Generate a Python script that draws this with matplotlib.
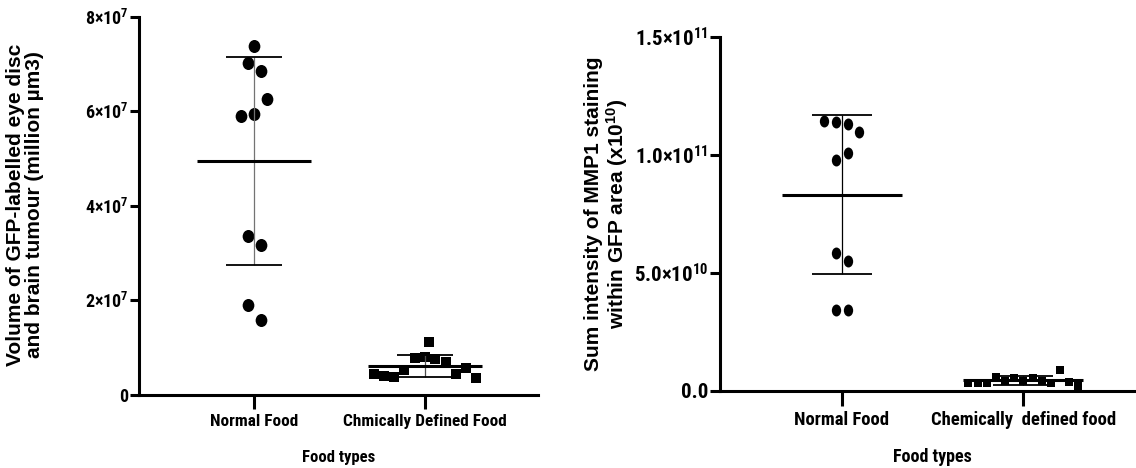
import numpy as np
from matplotlib import pyplot as plt
from matplotlib.font_manager import FontProperties
from matplotlib.path import Path
from matplotlib.transforms import Affine2D


# Tumour volume per animal (x 1e7 µm3)
normal_vol = [7.39, 7.02, 6.86, 6.27, 5.91, 5.94, 3.36, 3.18, 1.91, 1.59]
cdf_vol = [0.44, 0.40, 0.39, 0.52, 0.79, 0.80, 1.12, 0.76, 0.69, 0.44, 0.58, 0.37]

# MMP1 summed intensity per animal (x 1e10)
normal_mmp1 = [11.43, 11.39, 11.29, 10.96, 9.77, 10.05, 5.85, 5.47, 3.43, 3.41]
cdf_mmp1 = [0.30, 0.30, 0.32, 0.58, 0.42, 0.52, 0.40, 0.55, 0.42, 0.30, 0.88, 0.36, 0.20]

vol_ticks = [0, 2, 4, 6, 8]
vol_ticklabels = ["0", r"$\mathdefault{2×10^{7}}$", r"$\mathdefault{4×10^{7}}$",
                  r"$\mathdefault{6×10^{7}}$", r"$\mathdefault{8×10^{7}}$"]
mmp1_ticks = [0, 5, 10, 15]
mmp1_ticklabels = ["0.0", r"$\mathdefault{5.0×10^{10}}$", r"$\mathdefault{1.0×10^{11}}$",
                   r"$\mathdefault{1.5×10^{11}}$"]

# horizontal spread of the scatter columns (in marker slots)
normal_vol_slots = [0, -1, 1, 2, -2, 0, -1, 1, -1, 1]
cdf_vol_slots = [-5, -4, -3, -2, -1, 0, 0.4, 1, 2, 3, 4, 5]
normal_mmp1_slots = [-1.5, -0.5, 0.5, 1.5, -0.5, 0.5, -0.5, 0.5, -0.5, 0.5]
cdf_mmp1_slots = [-6, -5, -4, -3, -2, -1, 0, 1, 2, 3, 4, 5, 6]

W, H = 1136, 468

WIDE_FAMILIES = ["Liberation Sans", "Arimo", "DejaVu Sans"]
NARROW_FAMILIES = ["Liberation Sans Narrow", "Roboto Condensed", "IBM Plex Sans Condensed",
                   "Fira Sans Condensed", "Asap Condensed", "DejaVu Sans"]

plt.rcParams["font.family"] = WIDE_FAMILIES
plt.rcParams["font.weight"] = "bold"


def narrow(size):
    return FontProperties(family=NARROW_FAMILIES, weight="bold", size=size)


def wide(size):
    return FontProperties(family=WIDE_FAMILIES, weight="bold", size=size)


def ellipse(sx):
    circ = Path.unit_circle()
    return circ.transformed(Affine2D().scale(sx, 1.0))


def px_box(left, right, top, bottom):
    return [left / W, 1 - bottom / H, (right - left) / W, (bottom - top) / H]


def draw_group(ax, x0, values, slots, step, marker, size, mean_hw, cap_hw, vline_color):
    values = np.asarray(values)
    xs = x0 + np.asarray(slots) * step
    ax.scatter(xs, values, s=size, marker=marker, color="black", linewidths=0,
               zorder=3, clip_on=False)
    m = values.mean()
    sd = values.std(ddof=1)
    ax.vlines(x0, m - sd, m + sd, color=vline_color, lw=0.9, zorder=4)
    ax.hlines([m - sd, m + sd], x0 - cap_hw, x0 + cap_hw, color="black", lw=1.3, zorder=4)
    ax.hlines(m, x0 - mean_hw, x0 + mean_hw, color="black", lw=2.2, zorder=4)


def style_axes(ax, xlim, ylim, yticks, yticklabels, xticklabels, ysize, xsize, ytick_len, xtick_len):
    ax.set_xlim(*xlim)
    ax.set_ylim(*ylim)
    for side in ["top", "right"]:
        ax.spines[side].set_visible(False)
    for side in ["left", "bottom"]:
        ax.spines[side].set_linewidth(2.2)
    ax.set_yticks(yticks, yticklabels)
    ax.set_xticks([1, 2], xticklabels)
    for lbl in ax.get_yticklabels():
        lbl.set_fontproperties(narrow(ysize))
    for lbl in ax.get_xticklabels():
        lbl.set_fontproperties(narrow(xsize))
    ax.tick_params(axis="y", width=2.2, length=ytick_len, pad=1.5)
    ax.tick_params(axis="x", width=2.2, length=xtick_len, pad=4)


def main():
    fig = plt.figure(figsize=(W / 100, H / 100), dpi=100)

    # left: tumour volume
    ax1 = fig.add_axes(px_box(139.3, 537.5, 16.7, 395))
    draw_group(ax1, 1, normal_vol, normal_vol_slots, 0.038, ellipse(0.9), 88, 0.333, 0.164, "0.45")
    draw_group(ax1, 2, cdf_vol, cdf_vol_slots, 0.06, "s", 52, 0.333, 0.164, "0.3")
    style_axes(ax1, (0.329, 2.658), (0, 8), vol_ticks, vol_ticklabels,
               ["Normal Food", "Chmically Defined Food"], 13, 12.4, 6.5, 10)
    fig.text(25 / W, 1 - 205 / H,
             "Volume of GFP-labelled eye disc\nand brain tumour (million µm3)",
             rotation=90, ha="center", va="center", fontproperties=wide(15),
             linespacing=1.0)
    fig.text(339 / W, 1 - 461.7 / H, "Food types", ha="center", va="baseline",
             fontproperties=narrow(12))

    # right: MMP1 staining
    ax2 = fig.add_axes(px_box(720, 1136, 36.7, 390.5))
    draw_group(ax2, 1, normal_mmp1, normal_mmp1_slots, 0.064, ellipse(0.78), 74, 0.33, 0.165, "black")
    draw_group(ax2, 2, cdf_mmp1, cdf_mmp1_slots, 0.0505, "s", 37, 0.33, 0.165, "black")
    style_axes(ax2, (0.330, 2.620), (0, 15), mmp1_ticks, mmp1_ticklabels,
               ["Normal Food", "Chemically  defined food"], 15, 13.4, 7, 11)
    fig.text(607 / W, 1 - 213.6 / H,
             "Sum intensity of MMP1 staining\nwithin GFP area (x$\\mathdefault{10^{10}}$)",
             rotation=90, ha="center", va="center", fontproperties=wide(15),
             linespacing=1.05)
    fig.text(932 / W, 1 - 462 / H, "Food types", ha="center", va="baseline",
             fontproperties=narrow(13))

    fig.savefig("out.png", dpi=100)


if __name__ == "__main__":
    main()
